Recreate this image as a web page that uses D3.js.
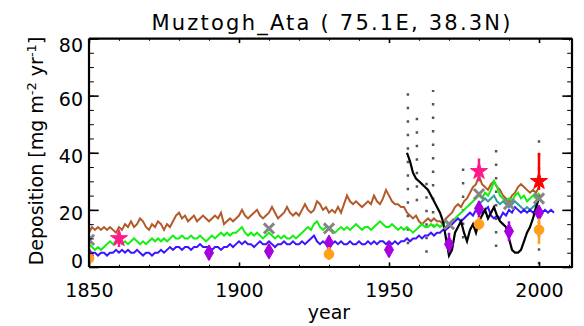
<!DOCTYPE html>
<html>
<head>
<meta charset="utf-8">
<script src="https://cdn.jsdelivr.net/npm/d3@7"></script>
<style>
  body { margin: 0; background: #fff; }
  svg text { font-family: "DejaVu Sans", sans-serif; fill: #000; }
</style>
</head>
<body>
<div id="chart"></div>
<script>
"use strict";

const width = 584,
      height = 326;

// model runs, one value per year from firstYear
const firstYear = 1850;
const brownValues = [
  12, 14, 13, 14, 13, 14, 13, 14, 13, 12,
  14, 13, 15, 14, 16, 14, 15, 17, 16, 14,
  13, 15, 14, 16, 15, 13, 15, 14, 16, 18,
  19, 17, 18, 16, 17, 18, 16, 17, 18, 17,
  16, 17, 18, 17, 19, 15, 16, 17, 16, 17,
  18, 20, 18, 17, 18, 19, 20, 18, 17, 18,
  19, 21, 19, 17, 18, 19, 21, 19, 18, 19,
  18, 20, 22, 20, 19, 20, 23, 22, 20, 21,
  19, 20, 19, 21, 19, 22, 25, 23, 22, 23,
  22, 21, 22, 23, 22, 25, 23, 22, 24, 27,
  25, 23, 22, 22, 21, 21, 19, 18, 17, 18,
  16, 15, 16, 17, 16, 17, 16, 16, 15, 17,
  18, 19, 21, 22, 21, 23, 24, 26, 28, 29,
  32, 29, 28, 27, 29, 30, 28, 27, 25, 24,
  23, 25, 26, 28, 29, 28, 27, 26, 27, 26,
  28
];
const greenValues = [
  8, 7, 6, 7, 6, 7, 8, 9, 8, 9,
  9, 8, 9, 8, 9, 10, 9, 8, 9, 8,
  9, 10, 9, 10, 9, 10, 9, 10, 11, 10,
  10, 11, 10, 10, 11, 10, 10, 11, 10, 9,
  10, 11, 10, 11, 12, 11, 12, 11, 12, 12,
  13, 14, 12, 11, 12, 11, 12, 11, 10, 11,
  12, 11, 10, 11, 10, 11, 10, 10, 11, 10,
  11, 12, 13, 14, 13, 15, 16, 14, 13, 14,
  14, 13, 12, 13, 14, 13, 14, 13, 14, 15,
  14, 13, 14, 14, 13, 14, 15, 16, 15, 14,
  14, 15, 14, 13, 14, 13, 14, 13, 12, 13,
  14, 15, 14, 14, 15, 14, 15, 14, 15, 16,
  15, 16, 17, 18, 19, 20, 21, 22, 23, 24,
  25, 24, 26, 25, 27, 30, 28, 25, 24, 23,
  24, 23, 25, 26, 24, 25, 23, 24, 25, 24,
  26
];
const blueValues = [
  4, 5, 5, 4, 5, 5, 4, 5, 5, 6,
  5, 6, 5, 6, 5, 5, 6, 5, 4, 5,
  5, 4, 5, 5, 6, 5, 6, 7, 6, 7,
  7, 6, 7, 7, 6, 7, 7, 8, 7, 7,
  7, 6, 7, 7, 6, 7, 7, 8, 7, 8,
  9, 8, 9, 8, 8, 7, 8, 9, 8, 8,
  9, 8, 7, 8, 8, 9, 8, 8, 9, 8,
  8, 9, 8, 9, 10, 11, 9, 8, 9, 8,
  9, 8, 9, 8, 9, 8, 8, 9, 8, 8,
  9, 8, 8, 9, 8, 9, 8, 9, 9, 8,
  9, 8, 9, 8, 9, 9, 10, 9, 10, 10,
  11, 10, 11, 11, 12, 11, 12, 12, 13, 13,
  14, 15, 16, 17, 16, 17, 18, 19, 18, 20,
  21, 19, 20, 21, 18, 17, 18, 17, 19, 18,
  20, 19, 21, 20, 19, 20, 19, 20, 19, 20,
  21, 19, 20, 19, 20, 19
];
const tealFirstYear = 1980;
const tealValues = [22, 23, 24, 23, 24, 25, 23, 22, 23, 22, 21, 22, 23, 22, 21, 20, 21, 20, 21, 22, 21];

// ice core record
const obsFirstYear = 1956;
const obsValues = [
  40, 37, 33, 31, 30, 29, 28, 27, 25, 23,
  21, 19, 16, 10, 4, 6, 12, 14, 16, 12,
  9, 13, 15, 12, 16, 18, 20, 17, 19, 21,
  18, 16, 15, 14, 10, 6, 5, 5, 6, 9,
  12, 14, 17, 21, 24
];
const spreadYears = [1956.3, 1959.3, 1962.5, 1964.7, 1974.7, 1985.7, 2000];
const spreadLow = [8, 23, 5, 14, 10, 7, 1];
const spreadHigh = [61, 56, 30, 62, 37, 44, 46];

// time slice models
const greyYears = [1850, 1910, 1930, 1970, 1980, 1990, 2000];
const greyValues = [9.5, 13.5, 13.5, 15, 25.5, 22, 24];
const purpleYears = [1850, 1890, 1910, 1930, 1950, 1970, 1980, 1990, 2000];
const purpleValues = [4, 5, 5.5, 8.5, 6, 8, 20.5, 12.5, 19];
const purpleLow = [2.5, 2.5, 3.5, 7, 3.5, 5, 17, 9, 17];
const purpleHigh = [5.5, 7.5, 8, 10.5, 9, 12, 23, 16, 21];
const orangeYears = [1850, 1930, 1980, 2000];
const orangeValues = [3, 4.5, 15, 13];
const orangeLow = [1, 2.5, 13, 8];
const orangeHigh = [5, 7, 17.5, 17];
const pinkYears = [1860, 1980];
const pinkValues = [10, 33.5];
const pinkLow = [7, 30];
const pinkHigh = [12.5, 38];
const redYears = [2000];
const redValues = [30];
const redLow = [27];
const redHigh = [40];

const xTicks = [1850, 1900, 1950, 2000];
const yTicks = [0, 20, 40, 60, 80];

const x = d3.scaleLinear().domain([1850, 2011]).range([89, 572]);
const y = d3.scaleLinear().domain([0, 80]).range([267, 38.5]);

const svg = d3.select("#chart")
  .append("svg")
  .attr("width", width)
  .attr("height", height);

svg.append("clipPath")
  .attr("id", "plot-clip")
  .append("rect")
  .attr("x", 89).attr("y", 38)
  .attr("width", 483).attr("height", 229);

const g = svg.append("g").attr("clip-path", "url(#plot-clip)");

function series(start, values) {
  return values.map((v, i) => [start + i, v]);
}

const line = d3.line()
  .defined(d => d[1] != null)
  .x(d => x(d[0]))
  .y(d => y(d[1]));

// observation spread, drawn as dotted columns
g.selectAll(".spread")
  .data(spreadYears)
  .join("line")
    .attr("class", "spread")
    .attr("x1", d => x(d))
    .attr("x2", d => x(d))
    .attr("y1", (d, i) => y(spreadLow[i]))
    .attr("y2", (d, i) => y(spreadHigh[i]))
    .attr("stroke", "#555")
    .attr("stroke-width", 2.5)
    .attr("stroke-dasharray", "2.5,11");

const models = [
  {values: series(firstYear, brownValues), color: "#b35a2b"},
  {values: series(firstYear, greenValues), color: "#12f012"},
  {values: series(tealFirstYear, tealValues), color: "#2e9f9a"},
  {values: series(firstYear, blueValues), color: "#3c14ff"}
];

g.selectAll(".model")
  .data(models)
  .join("path")
    .attr("class", "model")
    .attr("d", d => line(d.values))
    .attr("fill", "none")
    .attr("stroke", d => d.color)
    .attr("stroke-width", 2);

g.append("path")
  .attr("d", line(series(obsFirstYear, obsValues)))
  .attr("fill", "none")
  .attr("stroke", "#000")
  .attr("stroke-width", 2.2);

// time slice markers with their model range
const slices = [
  {years: greyYears, values: greyValues, color: "#858585", shape: d3.symbolTimes, size: 70, stroke: true},
  {years: purpleYears, values: purpleValues, low: purpleLow, high: purpleHigh, color: "#a600e0", shape: d3.symbolDiamond, size: 70},
  {years: orangeYears, values: orangeValues, low: orangeLow, high: orangeHigh, color: "#ff9f1a", shape: d3.symbolCircle, size: 75},
  {years: pinkYears, values: pinkValues, low: pinkLow, high: pinkHigh, color: "#ff1a8c", shape: d3.symbolStar, size: 90},
  {years: redYears, values: redValues, low: redLow, high: redHigh, color: "#ff0000", shape: d3.symbolStar, size: 90}
];

slices.forEach(function(s) {
  const layer = g.append("g");
  if (s.low) {
    layer.selectAll("line")
      .data(s.years)
      .join("line")
        .attr("x1", d => x(d))
        .attr("x2", d => x(d))
        .attr("y1", (d, i) => y(s.low[i]))
        .attr("y2", (d, i) => y(s.high[i]))
        .attr("stroke", s.color)
        .attr("stroke-width", 2.5);
  }
  layer.selectAll("path")
    .data(s.years)
    .join("path")
      .attr("transform", (d, i) => `translate(${x(d)},${y(s.values[i])})`)
      .attr("d", d3.symbol(s.shape, s.size))
      .attr("fill", s.stroke ? "none" : s.color)
      .attr("stroke", s.color)
      .attr("stroke-width", s.stroke ? 3 : 1);
});

// frame with inward ticks, IDL style
const frame = svg.append("g").attr("class", "frame");

function styleAxis(sel) {
  sel.selectAll(".domain").attr("stroke-width", 2.2);
  sel.selectAll(".tick line").attr("stroke-width", 1.6);
  sel.selectAll("text").attr("font-size", 19);
}

const minorX = d3.range(1850, 2011, 10);
const minorY = d3.range(0, 81, 5);

[[d3.axisBottom, 267, -4.6, -2.3], [d3.axisTop, 38.5, -4.6, -2.3]].forEach(function([axis, ty, big, small], k) {
  frame.append("g")
    .attr("transform", `translate(0,${ty})`)
    .call(axis(x).tickValues(minorX).tickSize(small).tickFormat(""));
  const a = frame.append("g")
    .attr("transform", `translate(0,${ty})`)
    .call(axis(x).tickValues(xTicks).tickSize(big).tickSizeOuter(0).tickPadding(17)
      .tickFormat(k === 0 ? d3.format("d") : ""))
    .call(styleAxis);
  a.selectAll(".domain").attr("d", `M89,0H572`);
});

[[d3.axisLeft, 89], [d3.axisRight, 572]].forEach(function([axis, tx], k) {
  frame.append("g")
    .attr("transform", `translate(${tx},0)`)
    .call(axis(y).tickValues(minorY).tickSize(-4.8).tickFormat(""));
  const a = frame.append("g")
    .attr("transform", `translate(${tx},0)`)
    .call(axis(y).tickValues(yTicks).tickSize(-9.7).tickSizeOuter(0).tickPadding(6)
      .tickFormat(k === 0 ? d3.format("d") : ""))
    .call(styleAxis);
  a.selectAll(".domain").attr("d", `M0,38.5V267`);
});

frame.selectAll(".domain").attr("stroke", "#000");
frame.selectAll(".tick text").attr("fill", "#000");

// IDL nudges the end labels inside the axis range
frame.selectAll("g").filter(function() { return d3.select(this).selectAll("text").size() === yTicks.length && d3.select(this).select("text").text() === "0"; })
  .selectAll("text")
  .attr("dy", (d, i) => i === 0 ? "0px" : i === yTicks.length - 1 ? "13px" : "9.4px");

svg.append("text")
  .attr("x", 331)
  .attr("y", 30)
  .attr("text-anchor", "middle")
  .attr("font-size", 21)
  .attr("textLength", 359)
  .text("Muztogh_Ata ( 75.1E, 38.3N)");

svg.append("text")
  .attr("x", 329)
  .attr("y", 319)
  .attr("text-anchor", "middle")
  .attr("font-size", 19)
  .text("year");

const ylab = svg.append("text")
  .attr("transform", "translate(43,151) rotate(-90)")
  .attr("text-anchor", "middle")
  .attr("font-size", 19);
ylab.append("tspan").text("Deposition [mg m");
ylab.append("tspan").attr("dy", -7).attr("font-size", 13).text("-2");
ylab.append("tspan").attr("dy", 7).text(" yr");
ylab.append("tspan").attr("dy", -7).attr("font-size", 13).text("-1");
ylab.append("tspan").attr("dy", 7).text("]");
</script>
</body>
</html>
